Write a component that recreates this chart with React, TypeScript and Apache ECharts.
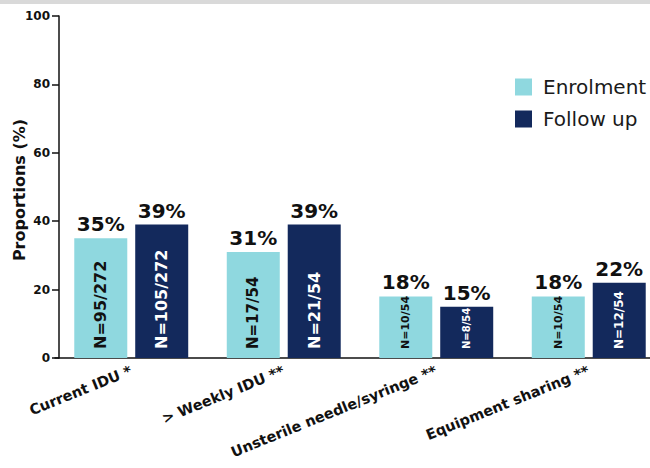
import React, { useEffect, useRef } from "react";
import * as echarts from "echarts";

const categories = [
  "Current IDU *",
  "> Weekly IDU **",
  "Unsterile needle/syringe **",
  "Equipment sharing **",
];
const enrolment = [35, 31, 18, 18];
const followUp = [39, 39, 15, 22];
const enrolmentN = ["N=95/272", "N=17/54", "N=10/54", "N=10/54"];
const followUpN = ["N=105/272", "N=21/54", "N=8/54", "N=12/54"];
const seriesNames = ["Enrolment", "Follow up"];
const yAxisTitle = "Proportions (%)";

// label font sizes (style only)
const enrolmentNFont = [16, 15, 11, 11];
const followUpNFont = [16, 16, 10, 12];

const FONT = "DejaVu Sans";
const LIGHT = "#8fd8df";
const DARK = "#13295c";

export default function App() {
  const ref = useRef<HTMLDivElement>(null);
  useEffect(() => {
    if (!ref.current) return;
    const chart = echarts.init(ref.current, null, { renderer: "svg" });
    const barWidth = 53;
    const mainBar = (
      name: string,
      stack: string,
      values: number[],
      nLabels: string[],
      sizes: number[],
      color: string,
      textColor: string
    ) => ({
      type: "bar",
      name,
      stack,
      barWidth,
      itemStyle: { color },
      data: values.map((v, i) => ({
        value: v,
        label: { fontSize: sizes[i] },
      })),
      label: {
        show: true,
        position: "insideBottom",
        distance: 9,
        rotate: 90,
        align: "left",
        verticalAlign: "middle",
        fontFamily: FONT,
        fontWeight: "bold",
        color: textColor,
        formatter: (p: any) => nLabels[p.dataIndex],
      },
    });
    const topLabel = (name: string, stack: string, values: number[]) => ({
      type: "bar",
      name,
      stack,
      barWidth,
      itemStyle: { color: "transparent" },
      data: values.map(() => 0),
      label: {
        show: true,
        position: "top",
        distance: 4,
        fontFamily: FONT,
        fontWeight: "bold",
        fontSize: 20,
        color: "#111",
        formatter: (p: any) => values[p.dataIndex] + "%",
      },
    });
    chart.setOption({
      animation: false,
      textStyle: { fontFamily: FONT },
      graphic: [
        {
          type: "rect",
          shape: { x: 0, y: 0, width: 650, height: 4 },
          style: { fill: "#d9d9d9" },
        },
        {
          type: "text",
          x: 19,
          y: 190,
          rotation: Math.PI / 2,
          style: {
            text: yAxisTitle,
            align: "center",
            verticalAlign: "middle",
            fontFamily: FONT,
            fontWeight: "bold",
            fontSize: 16,
            fill: "#111",
          },
        },
      ],
      legend: {
        data: seriesNames,
        orient: "vertical",
        left: 510,
        top: 72,
        icon: "rect",
        itemWidth: 17,
        itemHeight: 17,
        itemGap: 12,
        textStyle: {
          fontFamily: FONT,
          fontSize: 20,
          color: "#1a1a1a",
          padding: [0, 0, 0, 6],
        },
      },
      grid: {
        left: 55,
        right: -15,
        top: 16,
        bottom: 110,
        containLabel: false,
        outerBoundsMode: "none",
      },
      xAxis: {
        type: "category",
        data: categories,
        axisLine: { lineStyle: { color: "#111", width: 1.5 } },
        axisTick: { alignWithLabel: true, length: 6, lineStyle: { color: "#111", width: 1.5 } },
        axisLabel: {
          rotate: 22,
          margin: 12,
          interval: 0,
          fontFamily: FONT,
          fontWeight: "bold",
          fontSize: 14.5,
          color: "#111",
        },
      },
      yAxis: {
        type: "value",
        min: 0,
        max: 100,
        interval: 20,
        offset: -4,
        splitLine: { show: false },
        axisLine: { show: true, lineStyle: { color: "#111", width: 1.5 } },
        axisTick: { show: true, length: 7, lineStyle: { color: "#111", width: 1.5 } },
        axisLabel: {
          margin: 9,
          fontFamily: FONT,
          fontWeight: "bold",
          fontSize: 12,
          color: "#111",
        },
      },
      series: [
        mainBar(seriesNames[0], "a", enrolment, enrolmentN, enrolmentNFont, LIGHT, "#111"),
        topLabel("Enrolment %", "a", enrolment),
        mainBar(seriesNames[1], "b", followUp, followUpN, followUpNFont, DARK, "#fff"),
        topLabel("Follow up %", "b", followUp),
      ],
      barGap: "15%",
    });
    return () => chart.dispose();
  }, []);
  return (
    <div
      ref={ref}
      style={{ position: "fixed", left: 0, top: 0, width: 650, height: 468, background: "#fff" }}
    />
  );
}
